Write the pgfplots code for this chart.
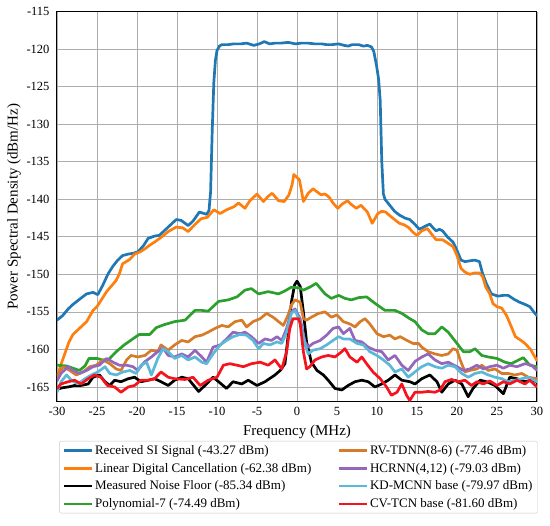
\documentclass[border=0pt]{standalone}
\usepackage{pgfplots}
\pgfplotsset{compat=1.18}
\usepackage{fontspec}
\setmainfont{Liberation Serif}
\definecolor{cblue}{HTML}{1F77B4}
\definecolor{corange}{HTML}{FF7F0E}
\definecolor{cgreen}{HTML}{2CA02C}
\definecolor{cdorange}{RGB}{214,124,40}
\definecolor{cpurple}{HTML}{9467BD}
\definecolor{ccyan}{HTML}{5BB8D9}
\definecolor{cred}{HTML}{F5141E}
\pgfplotsset{lw/.style={line width=2.7pt, line join=round, line cap=round}}
\begin{document}
\begin{tikzpicture}
\useasboundingbox (-57pt,-124pt) rectangle (493pt,402pt);
\begin{axis}[
  at={(0pt,0pt)}, anchor=south west,
  scale only axis, width=480pt, height=390.4pt,
  xmin=-30, xmax=30, ymin=-167, ymax=-115,
  xtick={-30,-25,...,30}, ytick={-165,-160,...,-115},
  major tick length=0pt,
  /pgf/number format/assume math mode=true,
  ticklabel style={font=\fontsize{12.5}{15}\selectfont},
  yticklabel style={xshift=-4pt},
  xticklabel style={yshift=-2pt},
  grid=major,
  major grid style={color=black!32, line width=0.8pt},
  axis line style={black, line width=1pt},
  xlabel={Frequency (MHz)},
  ylabel={Power Spectral Density (dBm/Hz)},
  label style={font=\fontsize{15}{18}\selectfont},
  xlabel style={at={(axis description cs:0.5,-0.0768)}, anchor=center},
  ylabel style={at={(axis description cs:-0.0896,0.5)}, anchor=center},
  legend columns=2,
  legend cell align=left,
  legend image code/.code={\draw[#1, line cap=butt] (0pt,0pt) -- (28pt,0pt);},
  legend style={at={(0.503,-0.0999)}, anchor=north, draw=black!22, rounded corners=2pt,
    font=\fontsize{13}{15.5}\selectfont, fill=white, row sep=3.3pt,
    /tikz/every even column/.append style={column sep=24pt}},
]
\addlegendimage{cblue, lw}\addlegendentry{Received SI Signal (-43.27 dBm)}
\addlegendimage{cdorange, lw}\addlegendentry{RV-TDNN(8-6) (-77.46 dBm)}
\addlegendimage{corange, lw}\addlegendentry{Linear Digital Cancellation (-62.38 dBm)}
\addlegendimage{cpurple, lw}\addlegendentry{HCRNN(4,12) (-79.03 dBm)}
\addlegendimage{black, lw}\addlegendentry{Measured Noise Floor (-85.34 dBm)}
\addlegendimage{ccyan, lw}\addlegendentry{KD-MCNN base (-79.97 dBm)}
\addlegendimage{cgreen, lw}\addlegendentry{Polynomial-7 (-74.49 dBm)}
\addlegendimage{cred, lw}\addlegendentry{CV-TCN base (-81.60 dBm)}

% Received SI Signal
\addplot[cblue, lw, forget plot] coordinates {
(-30,-156.1) (-29.3,-155.5) (-28.6,-154.6) (-28,-154.0) (-27.4,-153.5) (-26.8,-153.0) (-26.3,-152.6) (-25.5,-152.4) (-24.9,-152.7) (-24.3,-151.5) (-23.6,-149.9) (-23,-148.9) (-22.4,-148.1) (-21.8,-147.5) (-21.1,-147.3) (-20.5,-147.2) (-19.9,-147.0) (-19.2,-146.2) (-18.6,-145.2) (-17.8,-144.9) (-17.2,-144.8) (-16.5,-144.1) (-15.8,-143.4) (-15.1,-142.7) (-14.5,-142.8) (-13.6,-143.5) (-13.0,-142.9) (-12.2,-141.7) (-11.3,-142.0) (-11.0,-141.5) (-10.8,-139.0) (-10.6,-131.0) (-10.4,-124.5) (-10.2,-121.5) (-10.0,-120.2) (-9.7,-119.6) (-9.4,-119.4) (-8.6,-119.4) (-7.9,-119.3) (-7,-119.3) (-6.3,-119.2) (-5.4,-119.5) (-4.7,-119.3) (-4.1,-119.0) (-3.4,-119.3) (-2.75,-119.2) (-2,-119.2) (-1.1,-119.1) (-0.2,-119.3) (0.5,-119.2) (1.4,-119.2) (2.2,-119.3) (3.1,-119.3) (3.7,-119.4) (4.4,-119.4) (5.2,-119.3) (5.9,-119.5) (6.4,-119.6) (6.9,-119.4) (7.7,-119.4) (8.3,-119.6) (8.8,-119.5) (9.3,-119.7) (9.6,-120.3) (9.96,-122.3) (10.2,-124.0) (10.4,-126.8) (10.6,-135.0) (10.8,-139.3) (11.0,-140.0) (11.6,-140.8) (12.2,-141.6) (12.8,-142.1) (13.5,-142.5) (14.1,-142.7) (14.7,-143.3) (15.3,-144.0) (16,-143.6) (16.6,-143.3) (17.0,-143.8) (17.4,-144.2) (17.8,-144.0) (18.2,-144.2) (18.8,-145.0) (19.5,-145.7) (20.0,-146.8) (20.5,-148.1) (21.0,-148.3) (21.6,-148.2) (22.2,-148.1) (22.8,-148.3) (23.2,-149.9) (23.7,-151.3) (24.3,-152.6) (25.1,-152.9) (25.8,-152.8) (26.4,-152.8) (27.1,-153.3) (27.8,-153.7) (28.5,-154.0) (29.1,-154.3) (29.6,-155.0) (30,-155.5)
};
% Linear Digital Cancellation
\addplot[corange, lw, forget plot] coordinates {
(-30,-163.7) (-29.5,-162) (-29,-160.5) (-28.5,-159) (-28,-158) (-27.5,-157.5) (-27,-157) (-26.3,-156.3) (-25.5,-154.8) (-25,-154.3) (-24.1,-152.8) (-23.8,-152.3) (-22.6,-150.8) (-22.2,-149.9) (-21.8,-148.6) (-20.9,-148.0) (-20.3,-147.3) (-19.6,-147.0) (-19.0,-146.6) (-18.4,-146.1) (-17.8,-145.7) (-16.9,-145.0) (-16.1,-144.3) (-15.1,-143.7) (-14.3,-143.8) (-13.6,-144.3) (-12.8,-143.4) (-12.0,-142.6) (-11.2,-142.4) (-10.4,-141.4) (-9.6,-141.9) (-8.8,-141.4) (-7.9,-141.0) (-7.3,-140.5) (-6.5,-141.2) (-5.9,-140.2) (-5.4,-139.7) (-5.0,-139.3) (-4.2,-140.3) (-3.6,-139.6) (-3.1,-139.2) (-2.3,-140.2) (-1.6,-140.3) (-1.0,-139.4) (-0.6,-138.0) (-0.4,-136.7) (0.3,-137.4) (0.5,-138.5) (0.8,-140.3) (1.4,-139.2) (2.0,-138.6) (2.5,-139.0) (3.0,-139.4) (3.5,-139.3) (4.0,-139.7) (4.5,-140.5) (5.1,-141.2) (5.7,-140.6) (6.3,-140.2) (6.8,-140.7) (7.4,-141.2) (8.0,-140.8) (8.8,-141.7) (9.4,-143.2) (10.1,-141.9) (10.6,-141.6) (11.1,-141.7) (11.5,-142.1) (12.2,-142.7) (12.8,-143.2) (13.4,-143.4) (14.0,-143.8) (14.5,-144.4) (15.0,-144.8) (15.6,-144.2) (16.3,-143.9) (16.8,-144.6) (17.4,-145.4) (18.2,-145.4) (18.8,-145.8) (19.5,-146.3) (20.0,-147.5) (20.5,-149.2) (21.0,-149.7) (21.6,-150.0) (22.2,-149.8) (22.8,-149.8) (23.2,-150.3) (23.6,-151.7) (24.1,-152.6) (24.5,-153.9) (25.0,-154.3) (25.6,-154.5) (26.2,-155.5) (26.8,-157.0) (27.3,-158.3) (28.0,-158.8) (28.5,-159.2) (29.2,-160.0) (30,-161.5)
};
% Measured Noise Floor
\addplot[black, lw, forget plot] coordinates {
(-30,-165.3) (-29.3,-165.1) (-28.6,-165.0) (-27.8,-164.8) (-27.0,-164.8) (-26.1,-164.6) (-25.5,-163.7) (-24.7,-163.4) (-24.0,-164.3) (-23.4,-164.8) (-22.8,-164.1) (-22.0,-164.3) (-21.1,-163.9) (-20.3,-163.7) (-19.5,-164.3) (-18.6,-164.1) (-17.8,-163.9) (-17.0,-164.3) (-16.1,-164.8) (-15.3,-164.1) (-14.4,-163.7) (-13.6,-163.9) (-12.9,-164.8) (-12.3,-165.6) (-11.5,-164.8) (-10.5,-163.7) (-9.8,-164.3) (-8.8,-165.2) (-8.0,-164.3) (-6.9,-164.6) (-6.1,-164.1) (-5.0,-164.8) (-4.0,-164.3) (-2.75,-163.4) (-2.1,-162.8) (-1.5,-161.9) (-1.1,-158.1) (-0.7,-153.7) (-0.3,-151.4) (0,-150.9) (0.4,-151.6) (0.8,-155) (1.2,-159) (1.8,-161.7) (2.5,-162.8) (3.3,-163.4) (3.9,-164.1) (4.75,-165.2) (5.6,-165.4) (6.4,-164.8) (7.25,-164.3) (8.1,-164.1) (8.9,-164.3) (9.75,-165.0) (10.6,-164.6) (11.4,-164.1) (12.25,-163.4) (13.1,-164.1) (14.1,-164.3) (14.75,-164.6) (15.6,-163.9) (16.6,-163.4) (17.5,-164.3) (18.1,-165.7) (18.9,-164.6) (19.75,-164.1) (20.6,-164.6) (21.4,-166.3) (22.0,-165.2) (22.9,-164.1) (23.7,-164.3) (24.75,-164.8) (25.8,-165.9) (26.6,-163.7) (27.5,-163.9) (28.5,-164.3) (29.3,-164.1) (30,-164.3)
};
% Polynomial-7
\addplot[cgreen, lw, forget plot] coordinates {
(-30,-162.1) (-28.8,-162.2) (-27.2,-162.8) (-26.5,-162.2) (-26.0,-161.2) (-25.0,-161.2) (-24.3,-161.4) (-23.5,-161.3) (-22.6,-160.3) (-21.6,-159.4) (-20.4,-158.5) (-19.7,-158.0) (-18.4,-158.0) (-17.6,-157.1) (-16.6,-156.7) (-15.3,-156.3) (-14.0,-156.1) (-12.75,-154.8) (-11.9,-154.8) (-11.1,-154.9) (-9.8,-153.6) (-8.6,-153.4) (-7.5,-153.0) (-6.5,-152.1) (-5.7,-151.9) (-4.8,-152.6) (-3.6,-152.3) (-2.3,-152.6) (-1.5,-152.2) (-0.7,-151.7) (0.2,-151.8) (0.8,-152.1) (1.6,-151.7) (2.4,-151.2) (3.5,-152.6) (4.3,-153.2) (5.2,-152.8) (6.0,-153.2) (6.8,-153.4) (7.7,-153.1) (8.7,-153.0) (9.8,-153.9) (11.0,-154.8) (12.25,-154.8) (13.1,-155.2) (14.1,-155.9) (14.75,-156.3) (15.6,-157.4) (16.4,-157.9) (17.25,-157.9) (18.1,-157.0) (18.9,-157.7) (20.0,-159.2) (20.8,-160.3) (21.6,-160.3) (22.25,-159.9) (23.1,-160.8) (23.9,-161.0) (25.0,-161.2) (26.0,-161.7) (26.8,-161.9) (27.7,-161.4) (28.3,-161.1) (29.1,-162.1) (30,-162.3)
};
% RV-TDNN
\addplot[cdorange, lw, forget plot] coordinates {
(-30,-163.4) (-29.2,-162.3) (-28.4,-162.8) (-27.6,-163.4) (-26.75,-163.0) (-25.9,-162.3) (-25.1,-162.1) (-24.25,-161.4) (-23.4,-161.9) (-22.6,-162.6) (-22.0,-162.8) (-21.3,-161.4) (-20.75,-160.8) (-19.9,-161.0) (-19.0,-160.8) (-18.2,-160.1) (-17.4,-160.3) (-17.0,-159.4) (-16.1,-160.1) (-15.3,-159.4) (-14.4,-158.8) (-13.6,-159.0) (-12.75,-158.3) (-11.9,-158.1) (-11.1,-157.7) (-10.25,-157.2) (-9.4,-156.8) (-8.6,-157.0) (-7.75,-156.3) (-6.9,-156.1) (-6.3,-157.0) (-5.5,-156.3) (-4.6,-155.9) (-3.8,-155.2) (-3.0,-155.7) (-2.3,-156.3) (-1.7,-156.8) (-1.1,-155.4) (-0.7,-154.1) (-0.25,-153.4) (0.4,-153.7) (0.8,-155.9) (1.2,-156.1) (1.8,-155.7) (2.7,-155.2) (3.5,-155.0) (4.3,-155.7) (5.0,-155.4) (5.8,-156.3) (6.6,-156.6) (7.25,-157.0) (7.9,-156.3) (8.5,-155.9) (9.1,-156.6) (10.0,-157.9) (10.8,-158.3) (11.6,-158.1) (12.25,-158.6) (12.9,-158.3) (13.75,-158.8) (14.5,-159.2) (15.2,-159.2) (15.6,-159.7) (16.4,-160.3) (17.25,-160.6) (18.1,-160.8) (18.9,-160.6) (19.5,-159.9) (20.0,-160.1) (20.4,-161.4) (21.0,-163.0) (21.6,-162.8) (22.5,-162.6) (23.1,-162.1) (23.9,-162.8) (24.75,-162.6) (25.6,-163.2) (26.4,-163.2) (27.25,-163.4) (28.1,-163.2) (28.9,-163.7) (30,-163.9)
};
% HCRNN
\addplot[cpurple, lw, forget plot] coordinates {
(-30,-164.2) (-29.5,-163.2) (-28.6,-162.3) (-28.0,-162.8) (-27.2,-163.2) (-26.3,-162.8) (-25.5,-162.3) (-24.7,-162.1) (-23.8,-161.2) (-23.0,-161.7) (-22.2,-162.1) (-21.3,-162.1) (-20.5,-162.3) (-19.9,-162.8) (-19.1,-161.7) (-18.2,-161.0) (-17.4,-160.3) (-16.75,-159.8) (-16.1,-160.8) (-15.3,-161.0) (-14.4,-160.6) (-13.6,-161.0) (-12.75,-160.1) (-11.9,-161.0) (-11.3,-161.7) (-10.5,-159.7) (-9.6,-159.4) (-8.8,-158.6) (-8.0,-157.7) (-7.1,-157.9) (-6.5,-157.7) (-5.7,-158.3) (-4.8,-159.2) (-4.0,-158.6) (-3.2,-158.8) (-2.5,-158.3) (-1.9,-158.8) (-1.3,-157.2) (-0.7,-155.0) (-0.25,-154.6) (0.4,-155.9) (1.0,-159.0) (1.4,-159.7) (2.0,-159.2) (2.9,-158.8) (3.7,-158.1) (4.5,-157.2) (5.2,-157.0) (5.8,-157.9) (6.6,-157.2) (7.25,-158.8) (8.1,-159.0) (8.9,-159.7) (9.75,-160.1) (10.6,-160.3) (11.4,-161.4) (12.25,-160.8) (13.1,-162.1) (13.9,-162.8) (14.75,-161.6) (15.6,-161.0) (16.4,-160.6) (17.25,-161.4) (18.1,-161.9) (18.9,-161.7) (20.0,-162.3) (20.8,-162.8) (21.6,-162.6) (22.5,-162.1) (23.3,-162.6) (24.1,-162.3) (25.0,-162.1) (25.8,-162.5) (26.6,-162.1) (27.5,-162.3) (28.5,-161.9) (29.3,-162.1) (30,-162.8)
};
% KD-MCNN
\addplot[ccyan, lw, forget plot] coordinates {
(-30,-165.7) (-29.5,-164.3) (-28.8,-163.4) (-28.2,-164.1) (-27.4,-164.6) (-26.5,-163.9) (-25.7,-163.4) (-24.9,-163.0) (-24.0,-162.3) (-23.4,-163.2) (-22.6,-163.4) (-21.75,-163.0) (-20.9,-162.8) (-20.1,-163.2) (-19.5,-162.1) (-18.8,-161.7) (-18.2,-163.4) (-17.4,-161.2) (-16.75,-159.9) (-16.1,-160.3) (-15.3,-161.2) (-14.4,-160.8) (-13.6,-161.4) (-12.75,-161.0) (-11.9,-161.7) (-11.3,-161.9) (-10.5,-160.6) (-9.6,-159.4) (-8.8,-158.8) (-8.0,-158.3) (-7.1,-158.0) (-6.3,-158.1) (-5.5,-158.8) (-4.8,-159.9) (-4.2,-159.2) (-3.4,-159.4) (-2.5,-159.0) (-1.9,-159.2) (-1.3,-157.7) (-0.7,-155.2) (-0.25,-154.8) (0.4,-156.3) (1.0,-159.4) (1.4,-160.6) (2.0,-160.1) (2.9,-159.9) (3.7,-159.4) (4.5,-158.8) (5.2,-158.3) (5.8,-158.6) (6.6,-158.6) (7.5,-159.2) (8.3,-159.4) (9.1,-160.3) (10.0,-160.8) (10.8,-161.4) (11.6,-162.1) (12.25,-163.0) (13.1,-162.6) (13.9,-163.7) (14.5,-163.2) (15.2,-162.6) (15.6,-162.3) (16.4,-161.9) (17.25,-162.3) (18.1,-162.5) (18.9,-162.1) (19.75,-162.3) (20.6,-163.2) (21.4,-163.7) (22.25,-163.2) (23.1,-163.0) (23.9,-163.4) (24.75,-163.7) (25.6,-163.9) (26.4,-164.3) (27.25,-164.1) (28.1,-163.9) (28.9,-163.7) (30,-164.3)
};
% CV-TCN
\addplot[cred, lw, forget plot] coordinates {
(-30,-165.2) (-29.5,-164.6) (-28.6,-164.3) (-27.8,-164.1) (-27.0,-164.6) (-26.1,-163.9) (-25.3,-163.4) (-24.5,-163.7) (-23.7,-164.8) (-22.8,-165.0) (-22.0,-165.7) (-21.1,-165.0) (-20.3,-164.8) (-19.5,-164.1) (-18.6,-164.1) (-17.8,-163.9) (-17.0,-163.0) (-16.1,-163.7) (-15.3,-163.9) (-14.0,-164.0) (-13.0,-163.7) (-12.1,-164.8) (-11.1,-164.1) (-10.0,-163.7) (-9.2,-162.1) (-8.4,-161.9) (-7.5,-162.1) (-6.7,-162.3) (-5.7,-161.9) (-4.6,-161.7) (-3.6,-162.1) (-2.75,-161.4) (-1.9,-162.6) (-1.3,-160.3) (-0.9,-157.2) (-0.5,-155.9) (0.2,-155.9) (0.4,-156.6) (0.8,-160.3) (1.2,-162.6) (1.6,-162.3) (2.25,-161.4) (3.1,-161.0) (3.9,-160.8) (4.75,-161.0) (5.6,-160.3) (6.0,-159.9) (6.6,-161.0) (7.5,-161.7) (8.1,-161.0) (8.7,-161.9) (9.5,-163.0) (10.4,-163.9) (11.2,-165.0) (11.8,-166.1) (12.5,-165.7) (13.1,-164.6) (13.7,-166.1) (14.1,-166.8) (14.75,-165.7) (15.6,-165.7) (16.4,-165.6) (17.25,-165.7) (17.9,-165.4) (18.5,-164.3) (19.3,-164.0) (20.2,-164.3) (21.0,-164.1) (21.8,-164.8) (22.5,-164.3) (23.3,-164.6) (24.1,-164.2) (25.0,-164.8) (25.8,-164.3) (26.6,-164.6) (27.5,-164.1) (28.5,-164.6) (29.1,-164.1) (30,-165.0)
};
\end{axis}
\end{tikzpicture}
\end{document}
